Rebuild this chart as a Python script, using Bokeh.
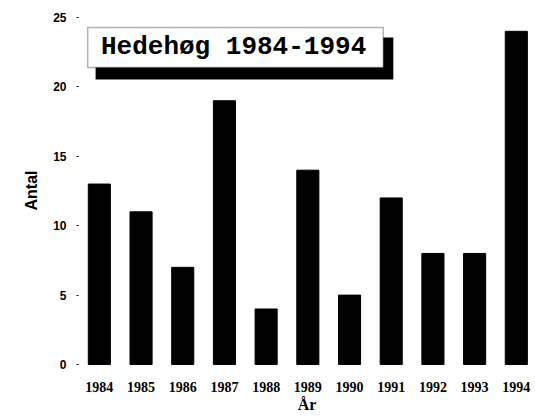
from bokeh.plotting import figure
from bokeh.models import Range1d, FixedTicker, Label, BoxAnnotation
from bokeh.embed import file_html
from bokeh.resources import INLINE

years = [1984, 1985, 1986, 1987, 1988, 1989, 1990, 1991, 1992, 1993, 1994]
antal = [13, 11, 7, 19, 4, 14, 5, 12, 8, 8, 24]
y_ticks = [0, 5, 10, 15, 20, 25]
title_text = "Hedehøg 1984-1994"

p = figure(width=535, height=418, output_backend="svg", toolbar_location=None,
           x_range=Range1d(1983.5, 1994.46), y_range=Range1d(-0.43, 25.5),
           min_border_left=78, min_border_right=0, min_border_top=10, min_border_bottom=48)
p.outline_line_color = None
p.xgrid.grid_line_color = None
p.ygrid.grid_line_color = None
p.background_fill_color = "white"

p.vbar(x=years, top=antal, width=0.53, bottom=0, fill_color="black", line_color="black")

# y axis
p.yaxis.ticker = FixedTicker(ticks=y_ticks)
p.yaxis.axis_line_color = None
p.yaxis.major_tick_out = 2
p.yaxis.major_tick_in = 0
p.yaxis.minor_tick_line_color = None
p.yaxis.major_tick_line_color = "black"
p.yaxis.major_label_standoff = 10
p.yaxis.major_label_text_font = "Liberation Sans"
p.yaxis.major_label_text_font_style = "bold"
p.yaxis.major_label_text_font_size = "12px"
p.yaxis.major_label_text_color = "black"
p.yaxis.axis_label = "Antal"
p.yaxis.axis_label_text_font = "Liberation Sans"
p.yaxis.axis_label_text_font_style = "bold"
p.yaxis.axis_label_text_font_size = "16px"
p.yaxis.axis_label_text_color = "black"
p.yaxis.axis_label_standoff = 10

# x axis
p.xaxis.ticker = FixedTicker(ticks=years)
p.xaxis.axis_line_color = None
p.xaxis.major_tick_line_color = None
p.xaxis.minor_tick_line_color = None
p.xaxis.major_tick_out = 0
p.xaxis.major_tick_in = 0
p.xaxis.major_label_standoff = 11
p.xaxis.major_label_text_font = "Liberation Serif"
p.xaxis.major_label_text_font_style = "bold"
p.xaxis.major_label_text_font_size = "14px"
p.xaxis.major_label_text_color = "black"
p.xaxis.axis_label = "År"
p.xaxis.axis_label_text_font = "Liberation Serif"
p.xaxis.axis_label_text_font_style = "bold"
p.xaxis.axis_label_text_font_size = "16px"
p.xaxis.axis_label_text_color = "black"
p.xaxis.axis_label_standoff = 1

# title box with shadow
shadow = BoxAnnotation(left=1983.91, right=1991.05, top=23.56, bottom=20.53,
                       fill_color="black", fill_alpha=1.0, line_color=None)
box = BoxAnnotation(left=1983.72, right=1990.81, top=24.28, bottom=21.40,
                    fill_color="white", fill_alpha=1.0, line_color="black", line_width=1.5)
p.add_layout(shadow)
p.add_layout(box)
p.add_layout(Label(x=1987.22, y=22.88, text=title_text, text_align="center",
                   text_baseline="middle", text_font="Liberation Mono",
                   text_font_style="bold", text_font_size="26px", text_color="black"))

open("out.html", "w").write(file_html(p, INLINE))
